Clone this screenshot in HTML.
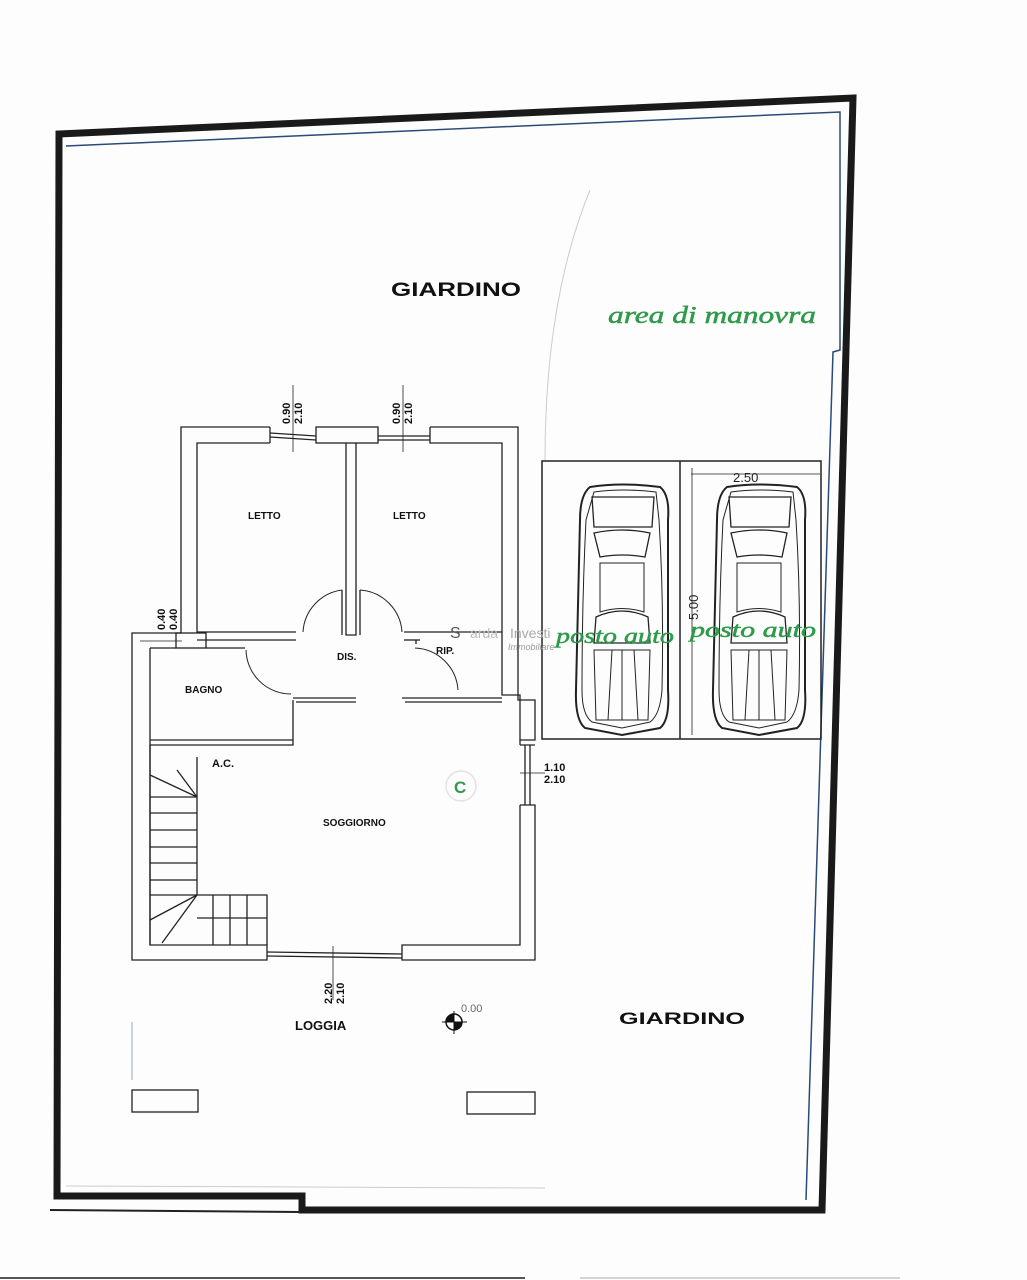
<!DOCTYPE html>
<html><head><meta charset="utf-8"><style>
html,body{margin:0;padding:0;background:#fff}
svg{display:block}
.l{font-family:"Liberation Sans",sans-serif;font-weight:bold;fill:#111}
.g{font-family:"Liberation Serif",serif;font-style:italic;fill:#2e9a4a;stroke:#2e9a4a;stroke-width:0.5}
</style></head><body>
<svg width="1027" height="1280" viewBox="0 0 1027 1280" xmlns="http://www.w3.org/2000/svg">
<rect width="1027" height="1280" fill="#fdfdfd"/>
<g fill="none" stroke="#1a1a1a" stroke-width="7">
<path d="M59,134 L853,98 L822,1210 L302,1210 L302,1196 L57,1196 Z"/>
</g>
<path d="M66,146 L840,112 L840,350 L833,352 L806,1200" fill="none" stroke="#2a4a78" stroke-width="1.5"/>
<line x1="50" y1="1210" x2="300" y2="1212" stroke="#222" stroke-width="2"/>
<line x1="66" y1="1186" x2="545" y2="1188" stroke="#ccc" stroke-width="1"/>
<path d="M590,190 Q545,300 545,460" fill="none" stroke="#ccc" stroke-width="1"/>
<line x1="0" y1="1278" x2="525" y2="1278" stroke="#555" stroke-width="2"/>
<line x1="580" y1="1278" x2="900" y2="1278" stroke="#aaa" stroke-width="1"/>
<g fill="none" stroke="#222" stroke-width="1.3">
<path d="M270,427 L181,427 L181,633 L150,633"/>
<path d="M270,443 L197,443 L197,632 L296,632"/>
<line x1="270" y1="427" x2="270" y2="443"/>
<rect x="316" y="427" width="62" height="16"/>
<path d="M430,427 L518,427 L518,700 L535,700 L535,740 L520,740 L520,695 L502,695 L502,443 L430,443 L430,427"/>
<line x1="270" y1="433" x2="316" y2="436"/><line x1="270" y1="437" x2="316" y2="440"/>
<line x1="378" y1="436" x2="430" y2="436"/><line x1="378" y1="440" x2="430" y2="440"/>
<path d="M346,443 L346,635 L356,635 L356,443"/>
<line x1="342" y1="590" x2="342" y2="635"/><line x1="360" y1="590" x2="360" y2="635"/>
<line x1="197" y1="640" x2="296" y2="640"/>
<line x1="404" y1="632" x2="502" y2="632"/><line x1="404" y1="640" x2="420" y2="640"/>
<line x1="416" y1="640" x2="416" y2="644"/>
<path d="M150,633 L132,633 L132,960 L267,960 L267,945 L150,945 L150,648"/>
<rect x="176" y="633" width="30" height="15"/>
<path d="M150,648 L176,648 M206,648 L245,648"/>
<path d="M293,700 L293,745 L150,745 M150,740 L293,740"/>
<path d="M293,698 L356,698 M296,702 L356,702"/>
<path d="M402,698 L502,698 M405,702 L502,702"/>
<path d="M520,745 L535,745 M520,805 L535,805 L535,960 L402,960 L402,945 L520,945 L520,805"/>
<line x1="525" y1="745" x2="525" y2="805"/><line x1="530" y1="745" x2="530" y2="805"/>
<line x1="520" y1="745" x2="520" y2="740"/>
<line x1="267" y1="952" x2="402" y2="954"/><line x1="267" y1="956" x2="402" y2="958"/>
<path d="M303,632 A45,45 0 0 1 342,590" stroke-width="1"/>
<path d="M360,590 A45,45 0 0 1 402,632" stroke-width="1"/>
<path d="M246,650 A45,45 0 0 0 291,694" stroke-width="1"/>
<path d="M415,648 A45,45 0 0 1 458,690" stroke-width="1"/>
<line x1="197" y1="757" x2="197" y2="895"/>
<path d="M150,895 L267,895 L267,945"/>
<line x1="197" y1="918" x2="267" y2="918"/>
<line x1="150" y1="797" x2="197" y2="797"/><line x1="150" y1="813" x2="197" y2="813"/>
<line x1="150" y1="830" x2="197" y2="830"/><line x1="150" y1="847" x2="197" y2="847"/>
<line x1="150" y1="863" x2="197" y2="863"/><line x1="150" y1="880" x2="197" y2="880"/>
<line x1="213" y1="895" x2="213" y2="945"/><line x1="230" y1="895" x2="230" y2="945"/><line x1="247" y1="895" x2="247" y2="945"/>
<path d="M150,775 L197,797 L177,770 M150,920 L197,895 L162,943"/>
<line x1="150" y1="745" x2="150" y2="945"/>
<rect x="132" y="1090" width="66" height="22"/>
<rect x="467" y="1092" width="68" height="22"/>
<line x1="132" y1="1022" x2="132" y2="1080" stroke="#9ab" stroke-width="1"/>
<line x1="293" y1="385" x2="293" y2="452" stroke-width="0.8"/>
<line x1="403" y1="385" x2="403" y2="452" stroke-width="0.8"/>
<line x1="140" y1="641" x2="182" y2="641" stroke-width="0.8"/>
<line x1="520" y1="773" x2="545" y2="773" stroke-width="0.8"/>
<line x1="333" y1="946" x2="333" y2="1000" stroke-width="0.8"/>
</g>
<g fill="none" stroke="#222" stroke-width="1.5">
<rect x="542" y="461" width="279" height="278"/>
<line x1="680" y1="461" x2="680" y2="739"/>
<line x1="691" y1="474" x2="820" y2="474" stroke-width="0.8"/>
<line x1="692" y1="468" x2="692" y2="735" stroke-width="0.8"/>
</g>
<g id="car" fill="none" stroke="#222" stroke-width="2">
<path d="M590,487 Q622,482 660,487 Q670,495 668,520 L668,690 Q670,720 660,728 L622,735 L585,728 Q575,720 576,690 L580,520 Q580,495 590,487 Z"/>
<path d="M594,492 Q622,488 656,492 L659,520 Q664,600 662,690 Q660,715 650,722 L622,728 L592,722 Q582,715 582,690 Q582,600 586,520 Z" stroke-width="1"/>
<path d="M592,497 L654,497 L652,527 L594,527 Z" stroke-width="1.3"/>
<path d="M594,533 Q622,527 650,533 L645,557 Q622,553 600,557 Z" stroke-width="1.3"/>
<path d="M600,563 L644,563 L644,612 Q622,605 600,612 Z" stroke-width="1"/>
<path d="M596,617 Q622,605 648,617 L650,643 L594,643 Z" stroke-width="1.3"/>
<path d="M594,650 L650,650 L648,720 L596,720 Z" stroke-width="1"/>
<line x1="612" y1="650" x2="608" y2="720" stroke-width="1"/><line x1="634" y1="650" x2="638" y2="720" stroke-width="1"/>
<line x1="622" y1="650" x2="622" y2="720" stroke-width="1"/>
</g>
<use href="#car" x="137" y="0"/>
<text class="l" x="391" y="296" font-size="19" textLength="130" lengthAdjust="spacingAndGlyphs">GIARDINO</text>
<text class="g" x="608" y="323" font-size="24" textLength="208" lengthAdjust="spacingAndGlyphs">area di manovra</text>
<text class="l" x="248" y="519" font-size="10">LETTO</text>
<text class="l" x="393" y="519" font-size="10">LETTO</text>
<text class="l" x="337" y="660" font-size="10">DIS.</text>
<text class="l" x="436" y="654" font-size="10">RIP.</text>
<text class="l" x="185" y="693" font-size="10">BAGNO</text>
<text class="l" x="212" y="767" font-size="11">A.C.</text>
<text class="l" x="323" y="826" font-size="10">SOGGIORNO</text>
<text class="l" x="295" y="1030" font-size="13" font-weight="normal">LOGGIA</text>
<text class="l" x="619" y="1024" font-size="17" textLength="126" lengthAdjust="spacingAndGlyphs">GIARDINO</text>
<text class="l" x="544" y="771" font-size="11">1.10</text>
<text class="l" x="544" y="783" font-size="11">2.10</text>
<g class="l" font-size="11">
<text transform="translate(290,424) rotate(-90)">0.90</text>
<text transform="translate(302,424) rotate(-90)">2.10</text>
<text transform="translate(400,424) rotate(-90)">0.90</text>
<text transform="translate(412,424) rotate(-90)">2.10</text>
<text transform="translate(165,630) rotate(-90)">0.40</text>
<text transform="translate(177,630) rotate(-90)">0.40</text>
<text transform="translate(332,1004) rotate(-90)">2.20</text>
<text transform="translate(344,1004) rotate(-90)">2.10</text>
</g>
<text x="733" y="482" font-family="Liberation Sans,sans-serif" font-size="13" fill="#222">2.50</text>
<text transform="translate(698,620) rotate(-90)" font-family="Liberation Sans,sans-serif" font-size="13" fill="#222">5.00</text>
<text x="450" y="638" font-family="Liberation Sans,sans-serif" font-size="16" fill="#555">S</text>
<text x="470" y="638" font-family="Liberation Sans,sans-serif" font-size="14" fill="#bbb">arda</text>
<text x="510" y="638" font-family="Liberation Sans,sans-serif" font-size="14" fill="#aaa">Investi</text>
<text x="508" y="650" font-family="Liberation Sans,sans-serif" font-size="9" font-style="italic" fill="#999">Immobiliare</text>
<text class="g" x="556" y="643" font-size="22" textLength="118" lengthAdjust="spacingAndGlyphs">posto auto</text>
<text class="g" x="690" y="637" font-size="22" textLength="126" lengthAdjust="spacingAndGlyphs">posto auto</text>
<circle cx="461" cy="786" r="15" fill="none" stroke="#e2e2e2" stroke-width="1.5"/>
<text x="454" y="793" font-family="Liberation Sans,sans-serif" font-weight="bold" font-size="17" fill="#2e9a4a">C</text>
<circle cx="454" cy="1022" r="8" fill="#fff" stroke="#111" stroke-width="1.5"/>
<path d="M454,1014 A8,8 0 0 0 446,1022 L454,1022 Z M454,1030 A8,8 0 0 0 462,1022 L454,1022 Z" fill="#111"/>
<line x1="442" y1="1022" x2="467" y2="1022" stroke="#111"/><line x1="454" y1="1011" x2="454" y2="1034" stroke="#111"/>
<text x="461" y="1012" font-family="Liberation Sans,sans-serif" font-size="11" fill="#666">0.00</text>
</svg>
</body></html>
